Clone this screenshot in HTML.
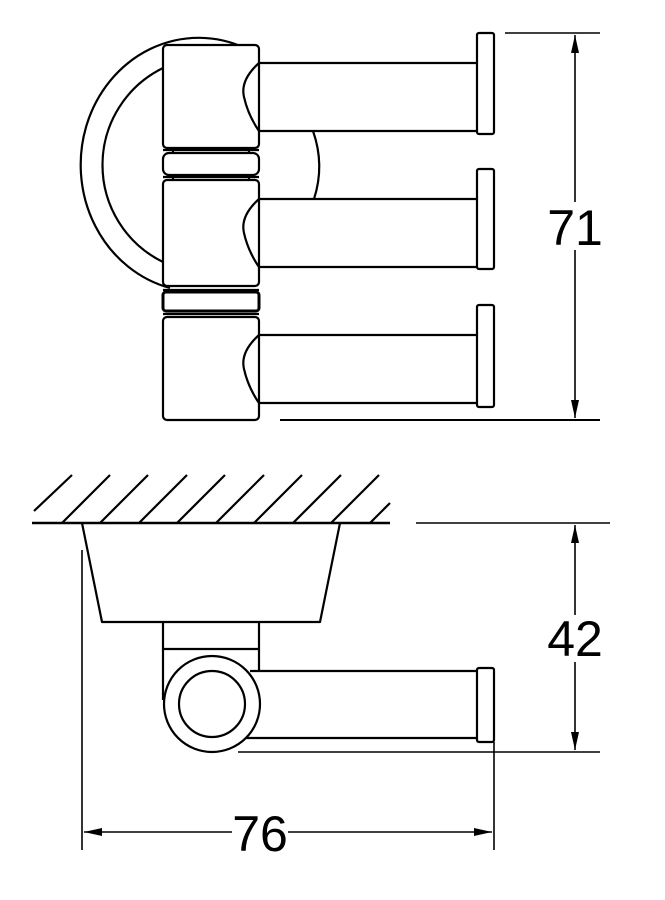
<!DOCTYPE html>
<html><head><style>html,body{margin:0;padding:0;background:#fff}svg{display:block}</style></head>
<body>
<svg width="665" height="900" viewBox="0 0 665 900" xmlns="http://www.w3.org/2000/svg">
<defs>
<marker id="a" viewBox="0 0 18 8" refX="18" refY="4" markerWidth="18" markerHeight="8" markerUnits="userSpaceOnUse" orient="auto-start-reverse">
<path d="M0,0 L18,4 L0,8 Z" fill="#000"/></marker>
</defs>
<g fill="none" stroke="#000" stroke-width="2.2" stroke-linejoin="round">
<path d="M245,48 A118,127 0 1 0 170,288"/>
<path d="M163,68 A108,108 0 0 0 163,262"/>
<path d="M313,131 Q325,165 314,199"/>
</g>
<g fill="#fff" stroke="#000" stroke-width="2.2" stroke-linejoin="round">
<rect x="163" y="45" width="96" height="103" rx="4"/>
<rect x="163" y="180" width="96" height="106" rx="4"/>
<rect x="163" y="317" width="96" height="103" rx="4"/>
</g>
<g fill="none" stroke="#000" stroke-width="2.2" stroke-linejoin="round">
<line x1="163" y1="150" x2="259" y2="150"/>
<rect x="163" y="153" width="96" height="22" rx="6"/>
<line x1="163" y1="177" x2="259" y2="177"/>
<line x1="173" y1="150" x2="173" y2="153"/><line x1="249" y1="150" x2="249" y2="153"/>
<line x1="173" y1="175" x2="173" y2="180"/><line x1="249" y1="175" x2="249" y2="180"/>
<line x1="163" y1="290" x2="259" y2="290"/>
<rect x="163" y="292" width="96" height="19" rx="3" stroke-width="3"/>
<line x1="163" y1="314" x2="259" y2="314"/>
<path d="M259,63 L477,63 M259,131 L477,131 M259,63 Q240,80 244,97 Q248,115 259,131"/>
<path d="M259,199 L477,199 M259,267 L477,267 M259,199 Q240,216 244,233 Q248,251 259,267"/>
<path d="M259,335 L477,335 M259,403 L477,403 M259,335 Q240,352 244,369 Q248,387 259,403"/>
<rect x="477" y="33" width="17" height="101" rx="2"/>
<rect x="477" y="169" width="17" height="100" rx="2"/>
<rect x="477" y="305" width="17" height="102" rx="2"/>
<path d="M82,523 L102,622 L320,622 L340,523"/>
<path d="M163,622 L163,700 M259,622 L259,670 M163,649 L259,649"/>
<circle cx="212" cy="704" r="48"/>
<circle cx="212" cy="704" r="33"/>
<path d="M250,671 L477,671 M246,738 L477,738"/>
<rect x="477" y="668" width="17" height="74" rx="2"/>
</g>
<g stroke="#000" stroke-width="2.2">
<line x1="32" y1="523" x2="390" y2="523" stroke-width="2.6"/>
<line x1="34" y1="511" x2="72" y2="475"/>
<line x1="62" y1="523" x2="110" y2="475"/>
<line x1="100" y1="523" x2="148" y2="475"/>
<line x1="139" y1="523" x2="187" y2="475"/>
<line x1="177" y1="523" x2="225" y2="475"/>
<line x1="216" y1="523" x2="264" y2="475"/>
<line x1="254" y1="523" x2="302" y2="475"/>
<line x1="293" y1="523" x2="341" y2="475"/>
<line x1="331" y1="523" x2="379" y2="475"/>
<line x1="370" y1="523" x2="390" y2="503"/>
</g>
<g stroke="#000" stroke-width="1.6" fill="none">
<line x1="505" y1="33" x2="600" y2="33"/>
<line x1="280" y1="420" x2="600" y2="420" stroke-width="2"/>
<line x1="575" y1="35" x2="575" y2="202" marker-start="url(#a)"/>
<line x1="575" y1="250" x2="575" y2="418" marker-end="url(#a)"/>
<line x1="416" y1="523" x2="610" y2="523"/>
<line x1="238" y1="752" x2="600" y2="752"/>
<line x1="575" y1="525" x2="575" y2="615" marker-start="url(#a)"/>
<line x1="575" y1="662" x2="575" y2="750" marker-end="url(#a)"/>
<line x1="82" y1="550" x2="82" y2="850"/>
<line x1="494" y1="742" x2="494" y2="850"/>
<line x1="84" y1="832" x2="232" y2="832" marker-start="url(#a)"/>
<line x1="288" y1="832" x2="492" y2="832" marker-end="url(#a)"/>
</g>
<g font-family="Liberation Sans, sans-serif" font-size="50" text-anchor="middle" fill="#000">
<text x="575" y="245">71</text>
<text x="575" y="656">42</text>
<text x="260" y="851">76</text>
</g>
</svg>
</body></html>
